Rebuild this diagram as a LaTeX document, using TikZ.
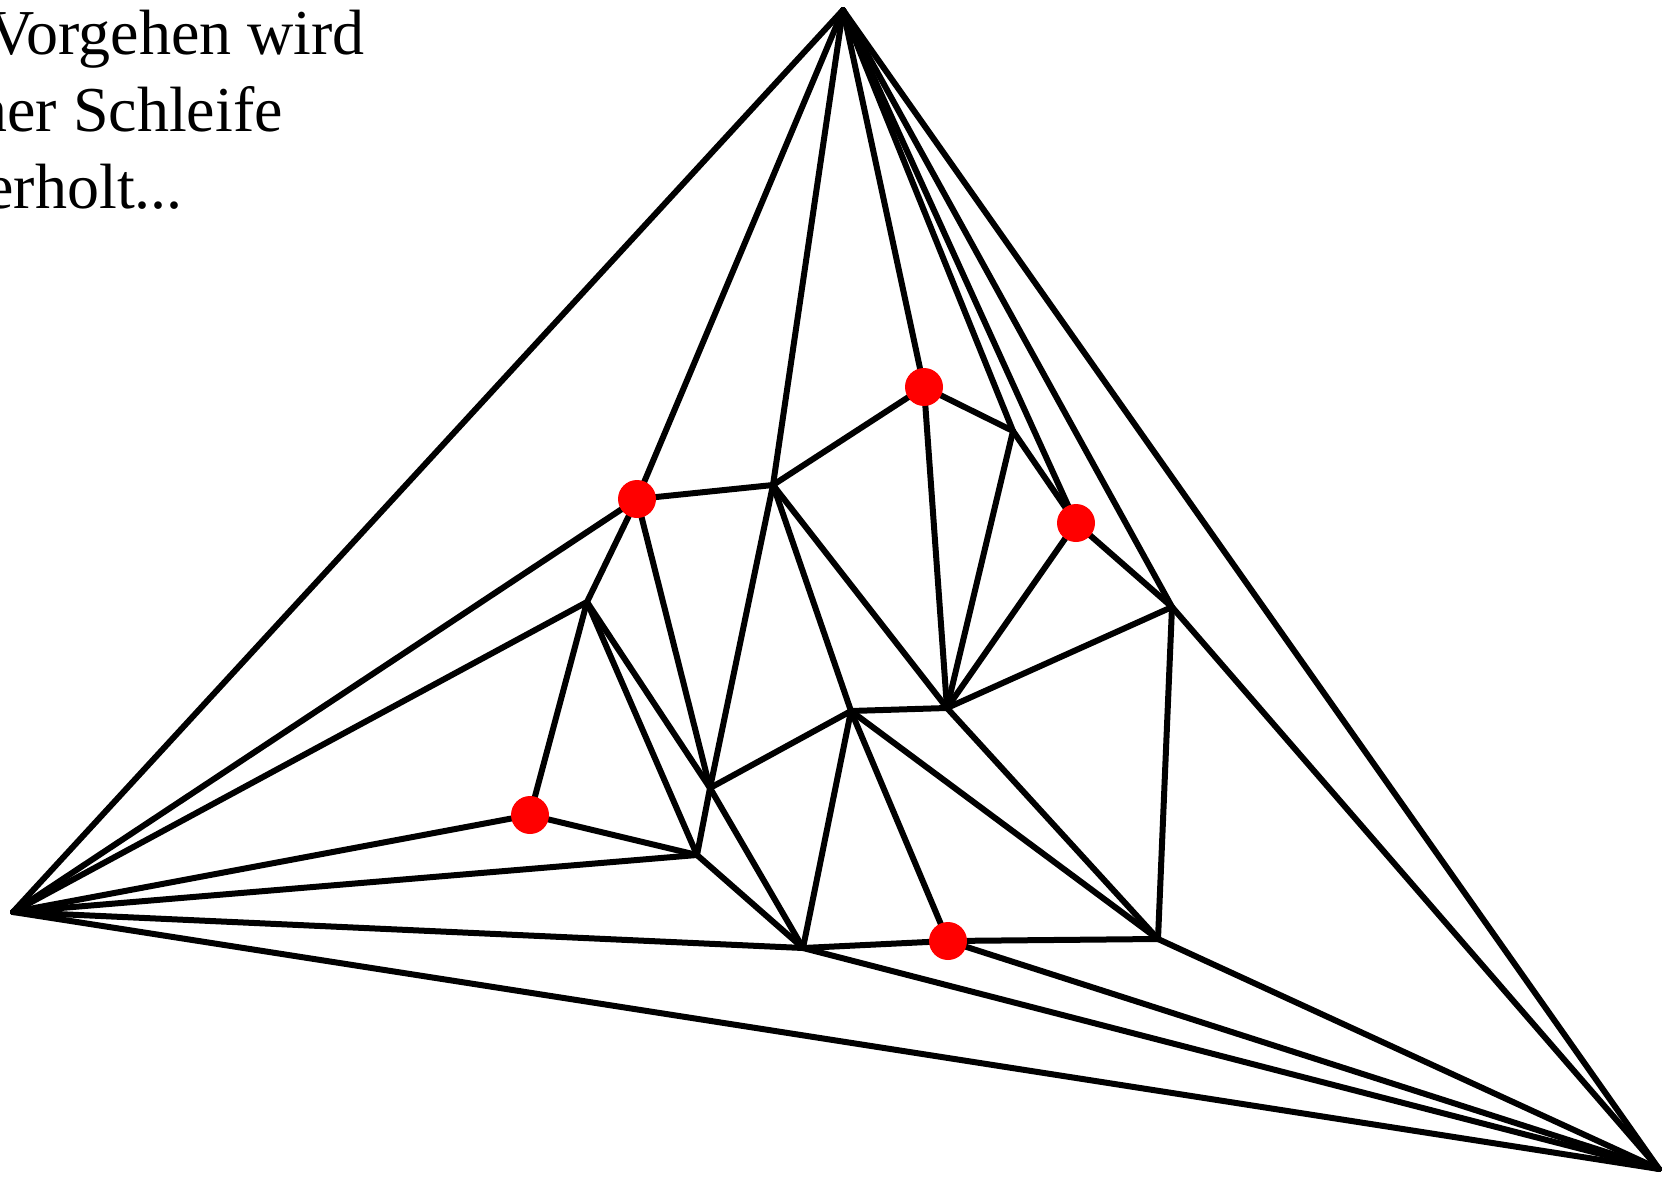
\documentclass[tikz,border=0pt]{standalone}
\usepackage{fontspec}
\setmainfont{Liberation Serif}
\begin{document}
\begin{tikzpicture}[x=1pt,y=-1pt,
  edge/.style={line width=6pt,line cap=round,line join=round},
  reddot/.style={circle,fill=red,inner sep=0pt,minimum size=38pt},
  txt/.style={anchor=base east,inner sep=0pt,font=\fontsize{64}{77}\selectfont}]
\useasboundingbox (0,0) rectangle (1679,1180);
\clip (0,0) rectangle (1679,1180);
\coordinate (T) at (843,10);
\coordinate (L) at (13,912);
\coordinate (R) at (1659,1169);
\coordinate (A) at (637,499);
\coordinate (V1) at (773,485);
\coordinate (V2) at (587,602);
\coordinate (B) at (924,387);
\coordinate (V3) at (1013,431);
\coordinate (C) at (1076,523);
\coordinate (V4) at (1172,607);
\coordinate (V5) at (947,708);
\coordinate (V6) at (851,711);
\coordinate (V7) at (710,788);
\coordinate (D) at (530,815);
\coordinate (V8) at (697,855);
\coordinate (V9) at (803,948);
\coordinate (E) at (948,941);
\coordinate (V10) at (1158,939);
\foreach \a/\b in {T/L,T/A,T/V1,T/B,T/V3,T/C,T/V4,T/R,
  L/A,L/V2,L/D,L/V8,L/V9,L/R,
  R/V9,R/E,R/V10,R/V4,
  A/V1,A/V2,A/V7,
  V1/B,V1/V7,V7/V8,V1/V6,V1/V5,
  B/V3,B/V5,V3/V5,V3/C,C/V5,C/V4,V4/V5,V4/V10,
  V5/V6,V5/V10,V6/V7,V6/V9,V6/E,V6/V10,
  V2/D,V2/V7,V2/V8,D/V8,V8/V9,V7/V9,V9/E,E/V10}
  \draw[edge] (\a) -- (\b);
\node[reddot] (dA) at (A) {};
\node[reddot] (dB) at (B) {};
\node[reddot] (dC) at (C) {};
\node[reddot] (dD) at (D) {};
\node[reddot] (dE) at (E) {};
\node[txt] (t1) at (365,55) {Vorgehen wird};
\node[txt] (t2) at (283,132) {ner Schleife};
\node[txt] (t3) at (183,208) {erholt...};
\end{tikzpicture}
\end{document}
